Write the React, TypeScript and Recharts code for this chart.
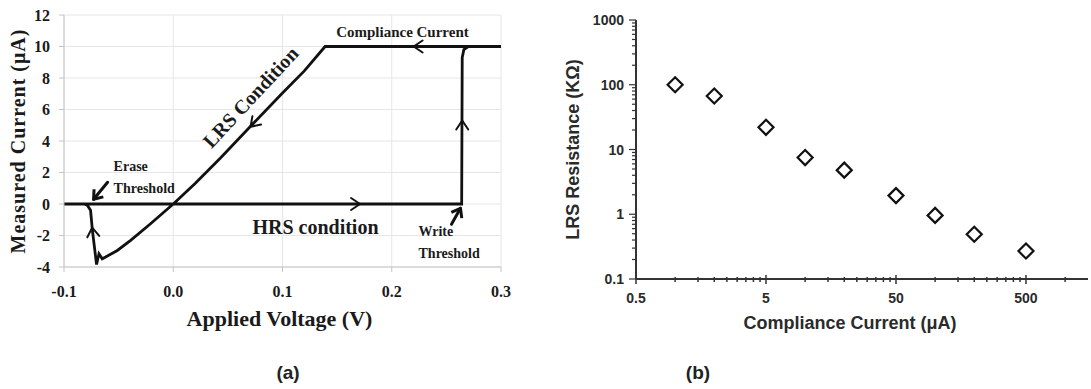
import React from 'react';
import {
  LineChart, Line, XAxis, YAxis, CartesianGrid, ReferenceDot,
  ScatterChart, Scatter,
} from 'recharts';

const SERIF = "'Liberation Serif', 'Times New Roman', serif";
const SANS = "'Liberation Sans', Arial, sans-serif";

// (a) I-V sweep, points in the order the trace is drawn
const SWEEP_V = [
  -0.1, -0.08, 0.264, 0.2645, 0.266, 0.27, 0.3, 0.139, 0.12, 0.1, 0.071, 0.043, 0.02, 0,
  -0.0208, -0.039, -0.0512, -0.0619, -0.065, -0.068, -0.0702, -0.074, -0.0757, -0.0787, -0.0818,
];
const SWEEP_I = [
  0, 0, 0, 9.3, 9.8, 10, 10, 10, 8.45, 7.05, 4.95, 2.9, 1.3, 0,
  -1.25, -2.31, -2.95, -3.37, -3.48, -3.16, -3.84, -1.67, -0.4, -0.08, 0,
];
const IV_X_TICKS = [-0.1, 0, 0.1, 0.2, 0.3];
const IV_Y_TICKS = [-4, -2, 0, 2, 4, 6, 8, 10, 12];

// direction arrows along the loop
const ARROW_V = [0.171, 0.2645, 0.22, 0.0707, -0.0742];
const ARROW_I = [0, 5.3, 10, 4.9, -1.5];
const ARROW_DEG = [0, -90, 180, 134, -97];

// (b) LRS resistance vs compliance current
const COMPLIANCE = [1, 2, 5, 10, 20, 50, 100, 200, 500];
const LRS_KOHM = [100, 67, 22, 7.5, 4.8, 1.94, 0.96, 0.49, 0.27];
const CC_MAJOR = [0.5, 5, 50, 500];
const CC_MINOR = [1, 1.5, 2, 2.5, 3, 3.5, 4, 4.5, 10, 15, 20, 25, 30, 35, 40, 45,
  100, 150, 200, 250, 300, 350, 400, 450, 1000];
const R_MAJOR = [0.1, 1, 10, 100, 1000];
const R_MINOR = [0.2, 0.3, 0.4, 0.5, 0.6, 0.7, 0.8, 0.9, 2, 3, 4, 5, 6, 7, 8, 9,
  20, 30, 40, 50, 60, 70, 80, 90, 200, 300, 400, 500, 600, 700, 800, 900];

const sweep = SWEEP_V.map((v, k) => ({ v, i: SWEEP_I[k] }));
const lrs = COMPLIANCE.map((c, k) => ({ current: c, resistance: LRS_KOHM[k] }));

const Chevron = ({ cx, cy, deg }: any) => (
  <path
    d="M -9 -6 L 0 0 L -9 6"
    transform={`translate(${cx},${cy}) rotate(${deg})`}
    fill="none" stroke="#111" strokeWidth={2} strokeLinecap="round" strokeLinejoin="round"
  />
);

// thick pointer arrow, tail given as a pixel offset from the tip
const Pointer = ({ cx, cy, dx, dy }: any) => {
  const deg = (Math.atan2(-dy, -dx) * 180) / Math.PI;
  return (
    <g>
      <line x1={cx + dx} y1={cy + dy} x2={cx} y2={cy} stroke="#111" strokeWidth={3} strokeLinecap="round" />
      <path
        d="M -8 -6 L 0 0 L -8 6"
        transform={`translate(${cx},${cy}) rotate(${deg})`}
        fill="none" stroke="#111" strokeWidth={3} strokeLinejoin="round"
      />
    </g>
  );
};

const note = (text: string, size: number, anchor = 'middle', rot = 0) => (p: any) => (
  <text
    x={p.cx} y={p.cy}
    textAnchor={anchor} dominantBaseline="central"
    transform={rot ? `rotate(${rot},${p.cx},${p.cy})` : undefined}
    fontFamily={SERIF} fontWeight="bold" fontSize={size} fill="#1a1a1a"
  >
    {text}
  </text>
);

const CcTick = ({ x, y, payload }: any) => {
  const major = CC_MAJOR.includes(payload.value);
  return (
    <g>
      <line x1={x} x2={x} y1={y - (major ? 4 : 2)} y2={y + (major ? 5 : 3)} stroke="#333" strokeWidth={1.5} />
      {major && (
        <text x={x} y={y + 19} textAnchor="middle" dominantBaseline="central"
          fontFamily={SANS} fontWeight="bold" fontSize={14} fill="#2a2a2a">
          {payload.value}
        </text>
      )}
    </g>
  );
};

const RTick = ({ x, y, payload }: any) => {
  const major = R_MAJOR.includes(payload.value);
  return (
    <g>
      <line x1={x - (major ? 7 : 4)} x2={x} y1={y} y2={y} stroke="#333" strokeWidth={1.2} />
      {major && (
        <text x={x - 12} y={y} textAnchor="end" dominantBaseline="central"
          fontFamily={SANS} fontWeight="bold" fontSize={14} fill="#2a2a2a">
          {payload.value}
        </text>
      )}
    </g>
  );
};

const Diamond = ({ cx, cy }: any) => (
  <path
    d={`M ${cx} ${cy - 7.5} L ${cx + 7.5} ${cy} L ${cx} ${cy + 7.5} L ${cx - 7.5} ${cy} Z`}
    fill="#fff" stroke="#111" strokeWidth={2.2}
  />
);

const panelLabel: React.CSSProperties = {
  position: 'absolute', top: 362, width: 60, textAlign: 'center',
  fontFamily: SANS, fontWeight: 'bold', fontSize: 19, color: '#222',
};

export default function App() {
  return (
    <div style={{ position: 'absolute', left: 0, top: 0, width: 1091, height: 389, background: '#fff' }}>
      <div style={{ position: 'absolute', left: 0, top: 0 }}>
        <LineChart width={520} height={340} data={sweep} margin={{ top: 15, right: 19, bottom: 0, left: 0 }}>
          <CartesianGrid stroke="#e6e6e6" />
          <XAxis
            dataKey="v" type="number" domain={[-0.1, 0.3]} ticks={IV_X_TICKS} interval={0}
            allowDataOverflow height={73} stroke="#c4c4c4" tickSize={5} tickMargin={14}
            tickFormatter={(v: number) => v.toFixed(1)}
            tick={{ fill: '#1a1a1a', fontSize: 16, fontWeight: 'bold', fontFamily: SERIF }}
            label={{
              content: ({ viewBox }: any) => (
                <text x={viewBox.x + viewBox.width / 2 - 3} y={318} textAnchor="middle" dominantBaseline="central"
                  fontFamily={SERIF} fontWeight="bold" fontSize={22} fill="#1a1a1a">
                  Applied Voltage (V)
                </text>
              ),
            }}
          />
          <YAxis
            type="number" domain={[-4, 12]} ticks={IV_Y_TICKS} interval={0} allowDataOverflow
            width={64} stroke="#c4c4c4" tickSize={5} tickMargin={9}
            tick={{ fill: '#1a1a1a', fontSize: 16, fontWeight: 'bold', fontFamily: SERIF }}
            label={{
              content: ({ viewBox }: any) => {
                const cy = viewBox.y + viewBox.height / 2;
                return (
                  <text x={18} y={cy} transform={`rotate(-90,18,${cy})`} textAnchor="middle" dominantBaseline="central"
                    fontFamily={SERIF} fontWeight="bold" fontSize={20} letterSpacing={1} fill="#1a1a1a">
                    Measured Current (μA)
                  </text>
                );
              },
            }}
          />
          <Line dataKey="i" type="linear" stroke="#111" strokeWidth={2.8} dot={false} isAnimationActive={false} />
          {ARROW_V.map((v, k) => (
            <ReferenceDot key={k} x={v} y={ARROW_I[k]} shape={(p: any) => <Chevron cx={p.cx} cy={p.cy} deg={ARROW_DEG[k]} />} />
          ))}
          <ReferenceDot x={-0.0729} y={0.3} shape={(p: any) => <Pointer cx={p.cx} cy={p.cy} dx={14} dy={-17} />} />
          <ReferenceDot x={0.2629} y={-0.27} shape={(p: any) => <Pointer cx={p.cx} cy={p.cy} dx={-9} dy={16} />} />
          <ReferenceDot x={0.2098} y={10.92} shape={note('Compliance Current', 15)} />
          <ReferenceDot x={0.0707} y={6.79} shape={note('LRS Condition', 20, 'middle', -47)} />
          <ReferenceDot x={0.1302} y={-1.49} shape={note('HRS condition', 20)} />
          <ReferenceDot x={-0.0546} y={2.4} shape={note('Erase', 14, 'start')} />
          <ReferenceDot x={-0.0546} y={0.99} shape={note('Threshold', 14, 'start')} />
          <ReferenceDot x={0.2245} y={-1.75} shape={note('Write', 14, 'start')} />
          <ReferenceDot x={0.2245} y={-3.15} shape={note('Threshold', 14, 'start')} />
        </LineChart>
      </div>

      <div style={{ position: 'absolute', left: 540, top: 0 }}>
        <ScatterChart width={551} height={340} margin={{ top: 20, right: 3, bottom: 0, left: 0 }}>
          <XAxis
            dataKey="current" type="number" scale="log" domain={[0.5, 1500]} allowDataOverflow
            ticks={[...CC_MAJOR, ...CC_MINOR].sort((a, b) => a - b)} interval={0}
            height={61} tickLine={false} tickSize={0} tickMargin={0}
            axisLine={{ stroke: '#333', strokeWidth: 2 }} tick={<CcTick />}
            label={{
              content: ({ viewBox }: any) => (
                <text x={310} y={viewBox.y + 44} textAnchor="middle" dominantBaseline="central"
                  fontFamily={SANS} fontWeight="bold" fontSize={18} fill="#2a2a2a">
                  Compliance Current (μA)
                </text>
              ),
            }}
          />
          <YAxis
            dataKey="resistance" type="number" scale="log" domain={[0.1, 1000]} allowDataOverflow
            ticks={[...R_MAJOR, ...R_MINOR].sort((a, b) => a - b)} interval={0}
            width={96} tickLine={false} tickSize={0} tickMargin={0}
            axisLine={{ stroke: '#333', strokeWidth: 2 }} tick={<RTick />}
            label={{
              content: ({ viewBox }: any) => {
                const cy = viewBox.y + viewBox.height / 2;
                return (
                  <text x={33} y={cy} transform={`rotate(-90,33,${cy})`} textAnchor="middle" dominantBaseline="central"
                    fontFamily={SANS} fontWeight="bold" fontSize={18} fill="#2a2a2a">
                    LRS Resistance (KΩ)
                  </text>
                );
              },
            }}
          />
          <Scatter data={lrs} shape={<Diamond />} isAnimationActive={false} />
        </ScatterChart>
      </div>

      <div style={{ ...panelLabel, left: 258 }}>(a)</div>
      <div style={{ ...panelLabel, left: 668 }}>(b)</div>
    </div>
  );
}
